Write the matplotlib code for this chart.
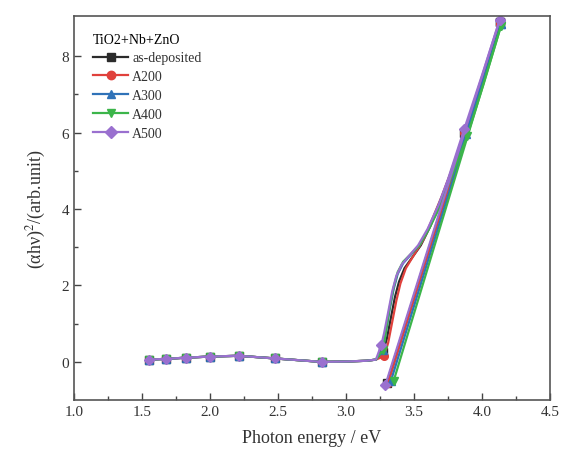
import numpy as np
import matplotlib
matplotlib.use("Agg")
import matplotlib.pyplot as plt

plt.rcParams['font.family'] = ['Liberation Serif', 'DejaVu Serif']
plt.rcParams['mathtext.fontset'] = 'stix'

# shared low-energy part (all samples overlap here)
low_x = [1.55, 1.68, 1.82, 2.00, 2.21, 2.48, 2.82, 3.00, 3.15, 3.22]
low_y = [0.06, 0.08, 0.11, 0.14, 0.16, 0.09, 0.00, 0.01, 0.03, 0.06]
low_marks = [0, 1, 2, 3, 4, 5, 6]

labels = ["as-deposited", "A200", "A300", "A400", "A500"]
colors = ["#2b2b2b", "#e0413c", "#2f72b8", "#3cb54a", "#9a70cf"]
markers = ["s", "o", "^", "v", "D"]

# absorption edge part of each curve (x, y)
edge_x = {
    "as-deposited": [3.27, 3.30, 3.33, 3.36, 3.39, 3.43, 3.48, 3.55, 3.62, 3.69, 3.76, 3.87, 4.00, 4.13],
    "A200":         [3.28, 3.31, 3.34, 3.37, 3.40, 3.44, 3.50, 3.57, 3.63, 3.70, 3.77, 3.87, 4.00, 4.13],
    "A300":         [3.27, 3.29, 3.32, 3.35, 3.38, 3.42, 3.47, 3.54, 3.61, 3.68, 3.76, 3.88, 4.00, 4.14],
    "A400":         [3.27, 3.29, 3.32, 3.35, 3.38, 3.42, 3.47, 3.54, 3.61, 3.69, 3.77, 3.89, 4.01, 4.14],
    "A500":         [3.26, 3.28, 3.31, 3.34, 3.37, 3.41, 3.46, 3.53, 3.60, 3.68, 3.75, 3.87, 4.00, 4.13],
}
edge_y = {
    "as-deposited": [0.25, 0.60, 1.15, 1.70, 2.10, 2.45, 2.70, 3.05, 3.55, 4.15, 4.85, 6.00, 7.40, 8.90],
    "A200":         [0.15, 0.50, 1.05, 1.60, 2.05, 2.45, 2.80, 3.20, 3.70, 4.30, 4.95, 6.00, 7.40, 8.85],
    "A300":         [0.30, 0.70, 1.35, 1.90, 2.30, 2.58, 2.78, 3.05, 3.50, 4.10, 4.80, 5.95, 7.30, 8.85],
    "A400":         [0.30, 0.72, 1.40, 1.95, 2.35, 2.62, 2.80, 3.05, 3.48, 4.05, 4.80, 5.90, 7.25, 8.80],
    "A500":         [0.45, 0.75, 1.30, 1.85, 2.25, 2.55, 2.76, 3.05, 3.48, 4.10, 4.78, 6.10, 7.50, 8.95],
}
edge_marks = [0, 11, 13]

# linear Tauc fit lines (end points)
fit_x = {
    "as-deposited": [3.30, 4.13],
    "A200": [3.31, 4.13],
    "A300": [3.33, 4.14],
    "A400": [3.35, 4.14],
    "A500": [3.29, 4.13],
}
fit_y = {
    "as-deposited": [-0.55, 8.90],
    "A200": [-0.55, 8.85],
    "A300": [-0.50, 8.85],
    "A400": [-0.50, 8.80],
    "A500": [-0.60, 8.95],
}

fig = plt.figure(figsize=(5.64, 4.60), dpi=100)
ax = fig.add_axes([0.1312, 0.128, 0.8440, 0.835])

for lab, c, m in zip(labels, colors, markers):
    xs = low_x + edge_x[lab]
    ys = low_y + edge_y[lab]
    marks = low_marks + [len(low_x) + i for i in edge_marks]
    ax.plot(xs, ys, color=c, lw=1.6, marker=m, ms=5.5, markevery=marks,
            label=lab, solid_joinstyle='round')
    ax.plot(fit_x[lab], fit_y[lab], color=c, lw=1.6, marker=m, ms=5.5)

ax.set_xlim(1.0, 4.5)
ax.set_ylim(-1.0, 9.05)
ax.set_xticks(np.arange(1.0, 4.51, 0.5))
ax.set_xticks(np.arange(1.25, 4.5, 0.5), minor=True)
ax.set_yticks([0, 2, 4, 6, 8])
ax.set_yticks([1, 3, 5, 7], minor=True)
ax.xaxis.set_major_formatter(matplotlib.ticker.FormatStrFormatter('%.1f'))
ax.tick_params(which='both', direction='in', top=False, right=False,
               labelsize=11, colors='#444444', labelcolor='#333333')
ax.tick_params(which='major', length=5, width=1)
ax.tick_params(which='minor', length=3, width=1)
for s in ax.spines.values():
    s.set_color('#555555')
    s.set_linewidth(1.2)

ax.set_xlabel("Photon energy / eV", fontsize=13, color='#333333', labelpad=8)
ax.set_ylabel(r"(αhν)$^2$/(arb.unit)", fontsize=13, color='#333333', labelpad=10)

leg = ax.legend(title="TiO2+Nb+ZnO", loc='upper left', bbox_to_anchor=(0.02, 0.982),
                frameon=False, fontsize=10, title_fontsize=10, handlelength=2.5,
                labelspacing=0.42, handletextpad=0.3, borderpad=0.2, markerscale=1.1)
leg._legend_box.align = "left"
for t in leg.get_texts():
    t.set_color('#333333')

fig.savefig("out.png", dpi=100)
